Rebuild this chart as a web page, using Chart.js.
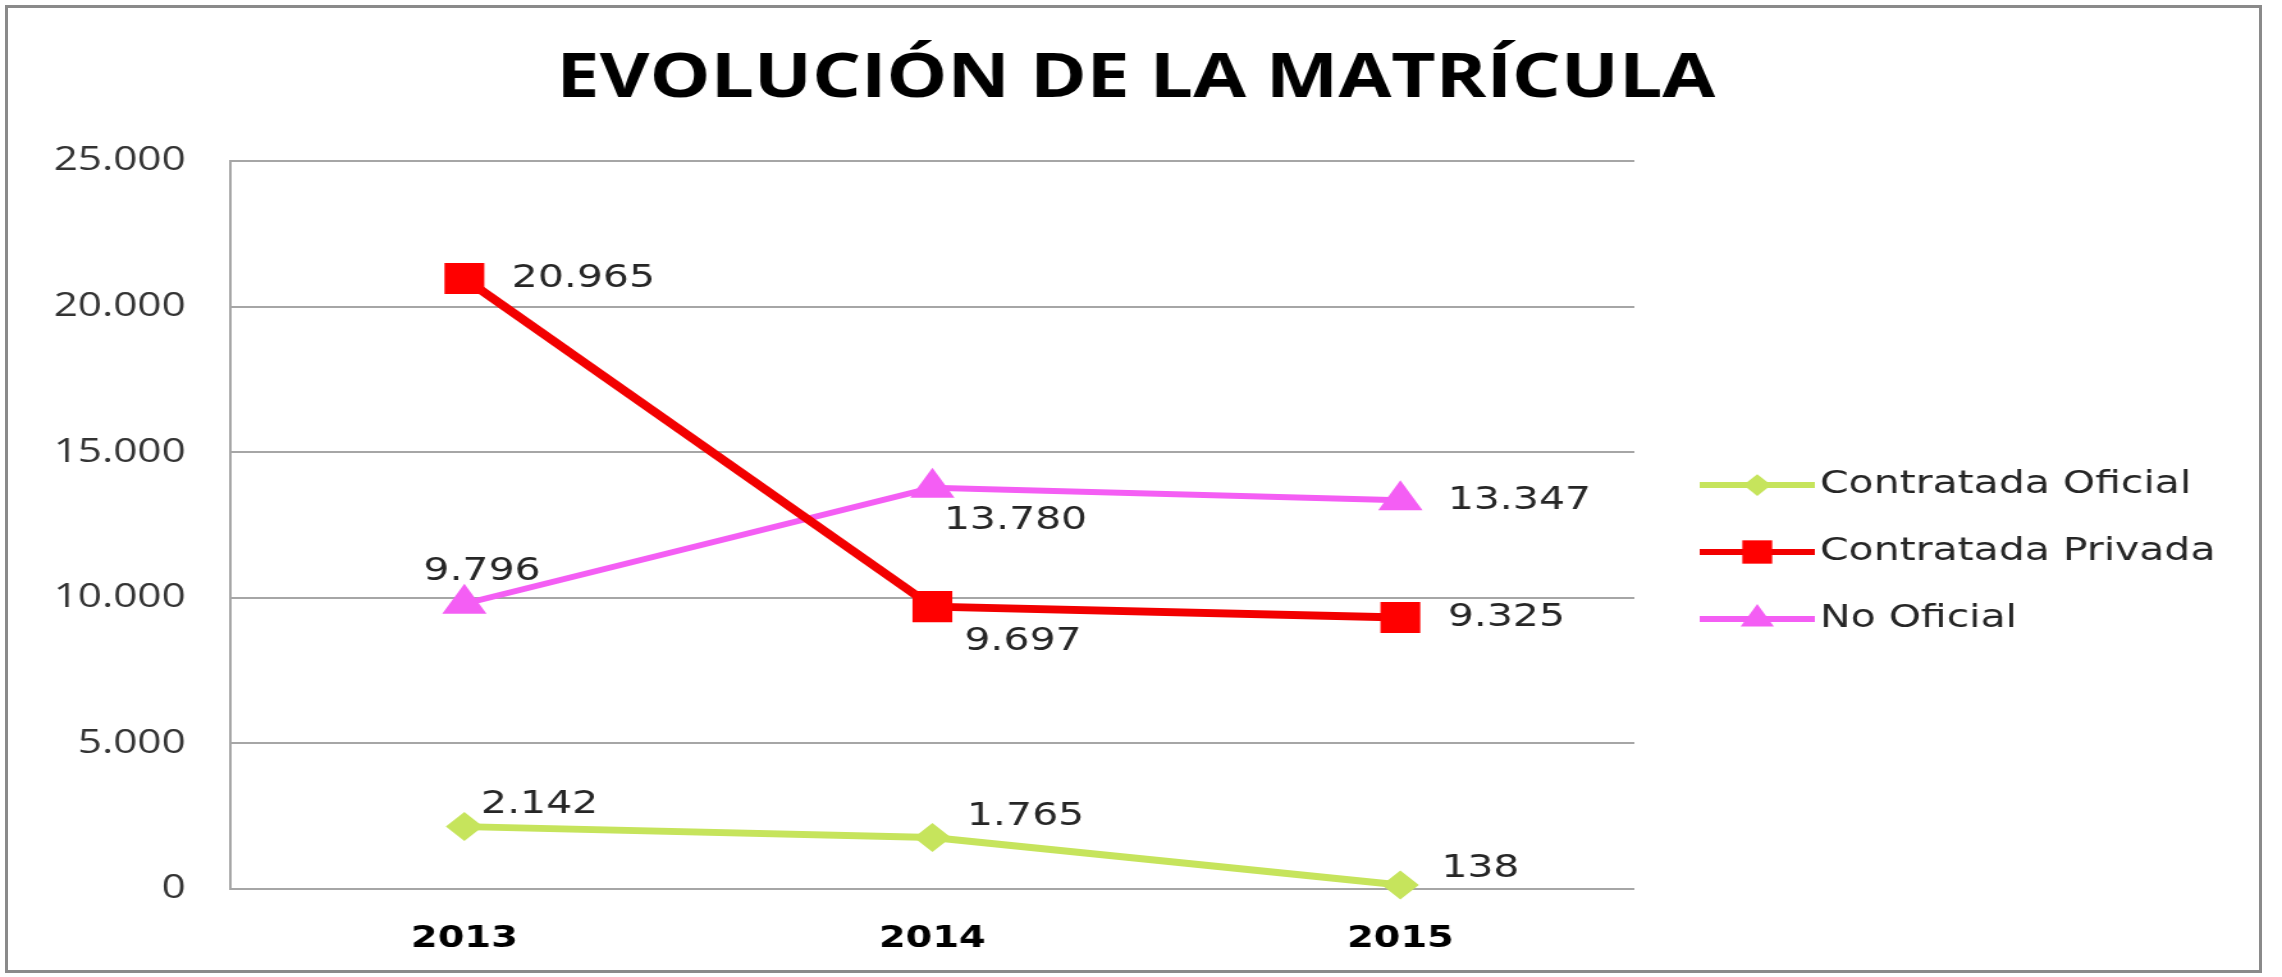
<!DOCTYPE html>
<html>
<head>
<meta charset="utf-8">
<script src="https://cdn.jsdelivr.net/npm/chart.js@4.4.1/dist/chart.umd.min.js"></script>
<style>
  html, body { margin: 0; padding: 0; background: #fff; }
  #wrap { position: relative; width: 2282px; height: 977px; overflow: hidden; }
  #chart { position: absolute; left: 0; top: 0; }
  #frame { position: absolute; left: 5px; top: 5px; width: 2251px; height: 962px; border: 3px solid #8a8a8a; pointer-events: none; }
</style>
</head>
<body>
<div id="wrap">
  <canvas id="chart" height="977"></canvas>
  <div id="frame"></div>
</div>
<script>
const years = ['2013', '2014', '2015'];
const seriesNames = ['Contratada Oficial', 'Contratada Privada', 'No Oficial'];
const oficial = [2142, 1765, 138];
const privada = [20965, 9697, 9325];
const noOficial = [9796, 13780, 13347];
const yTicks = [0, 5000, 10000, 15000, 20000, 25000];

// the source picture is stretched sideways, so draw narrower and stretch with css
const STRETCH = 1.28;
const canvas = document.getElementById('chart');
canvas.width = Math.round(2282 / STRETCH);
canvas.style.width = '2282px';
canvas.style.height = '977px';

const fmt = v => String(v).replace(/\B(?=(\d{3})+(?!\d))/g, '.');

// label offsets from each point [dx, dy], per series
const labelOffsets = [
    [[13, -22], [27, -21], [32, -16]],
    [[37, 0], [25, 35], [37, 0]],
    [[-32, -32], [9, 33], [37, 0]]
];

function drawMarker(ctx, style, r, x, y) {
    ctx.beginPath();
    if (style === 'rect') {
        const s = r * Math.SQRT1_2;
        ctx.rect(x - s, y - s, 2 * s, 2 * s);
    } else if (style === 'triangle') {
        ctx.moveTo(x, y - r);
        ctx.lineTo(x + r * Math.sin(2 * Math.PI / 3), y - r * Math.cos(2 * Math.PI / 3));
        ctx.lineTo(x + r * Math.sin(4 * Math.PI / 3), y - r * Math.cos(4 * Math.PI / 3));
        ctx.closePath();
    } else {
        ctx.moveTo(x - r, y);
        ctx.lineTo(x, y - r);
        ctx.lineTo(x + r, y);
        ctx.lineTo(x, y + r);
        ctx.closePath();
    }
    ctx.fill();
}

function legendSample(ds) {
    const c = document.createElement('canvas');
    c.width = 118;
    c.height = 44;
    const ctx = c.getContext('2d');
    ctx.strokeStyle = ds.borderColor;
    ctx.lineWidth = 6;
    ctx.beginPath();
    ctx.moveTo(28, 22);
    ctx.lineTo(118, 22);
    ctx.stroke();
    ctx.fillStyle = ds.pointBackgroundColor;
    drawMarker(ctx, ds.pointStyle, ds.pointRadius * 0.75, 73, 22);
    return c;
}

const valueLabels = {
    id: 'valueLabels',
    afterDatasetsDraw(chart) {
        const ctx = chart.ctx;
        ctx.save();
        ctx.font = '32px "DejaVu Sans"';
        ctx.fillStyle = '#262626';
        ctx.textAlign = 'left';
        ctx.textBaseline = 'middle';
        chart.data.datasets.forEach((ds, i) => {
            chart.getDatasetMeta(i).data.forEach((pt, j) => {
                const off = labelOffsets[i][j];
                ctx.fillText(fmt(ds.data[j]), pt.x + off[0], pt.y + off[1]);
            });
        });
        ctx.restore();
    }
};

const chart = new Chart(canvas, {
    type: 'line',
    data: {
        labels: years,
        datasets: [
            {
                label: seriesNames[0],
                data: oficial,
                borderColor: '#c6e45c',
                pointBackgroundColor: '#c6e45c',
                borderWidth: 7,
                pointStyle: 'rectRot',
                pointRadius: 14.5,
                pointBorderWidth: 0,
                order: 2
            },
            {
                label: seriesNames[1],
                data: privada,
                borderColor: '#f20000',
                pointBackgroundColor: '#ff0000',
                borderWidth: 8,
                pointStyle: 'rect',
                pointRadius: 22,
                pointBorderWidth: 0,
                order: 0
            },
            {
                label: seriesNames[2],
                data: noOficial,
                borderColor: '#f45ef4',
                pointBackgroundColor: '#f45ef4',
                borderWidth: 6,
                pointStyle: 'triangle',
                pointRadius: 20,
                pointBorderWidth: 0,
                order: 1
            }
        ]
    },
    options: {
        responsive: false,
        animation: false,
        layout: {
            padding: { left: 34, right: 42, top: 0, bottom: 20 }
        },
        datasets: {
            line: { tension: 0, fill: false, clip: false }
        },
        scales: {
            x: {
                type: 'category',
                offset: true,
                grid: { display: false, drawTicks: false },
                border: { display: false },
                ticks: {
                    color: '#000',
                    padding: 32,
                    font: { family: 'DejaVu Sans', weight: 'bold', size: 30 }
                },
                afterFit: s => { s.height = 68; }
            },
            y: {
                min: 0,
                max: 25000,
                afterBuildTicks: s => { s.ticks = yTicks.map(v => ({ value: v })); },
                grid: { color: '#a6a6a6', lineWidth: 2, drawTicks: false },
                border: { display: true, color: '#a6a6a6', width: 2 },
                ticks: {
                    color: '#333',
                    padding: 35,
                    font: { family: 'Open Sans', size: 33 },
                    callback: v => fmt(v)
                },
                afterFit: s => { s.width = 146; }
            }
        },
        plugins: {
            title: {
                display: true,
                text: 'EVOLUCIÓN DE LA MATRÍCULA',
                color: '#000',
                font: { family: 'Open Sans', weight: 'bold', size: 60 },
                padding: { top: 44, bottom: 45 }
            },
            legend: {
                position: 'right',
                align: 'center',
                fullSize: false,
                maxWidth: 600,
                title: {
                    display: true,
                    text: ' ',
                    padding: 0,
                    font: { size: 10, lineHeight: '54px' }
                },
                labels: {
                    usePointStyle: true,
                    pointStyleWidth: 94,
                    padding: 35,
                    color: '#262626',
                    font: { family: 'DejaVu Sans', size: 32 },
                    generateLabels: c => c.data.datasets.map((ds, i) => ({
                        text: ds.label,
                        pointStyle: legendSample(ds),
                        datasetIndex: i,
                        hidden: false,
                        lineWidth: 0,
                        fillStyle: 'transparent',
                        strokeStyle: 'transparent',
                        fontColor: '#262626'
                    }))
                }
            },
            tooltip: { enabled: false }
        }
    },
    plugins: [valueLabels]
});
</script>
</body>
</html>
